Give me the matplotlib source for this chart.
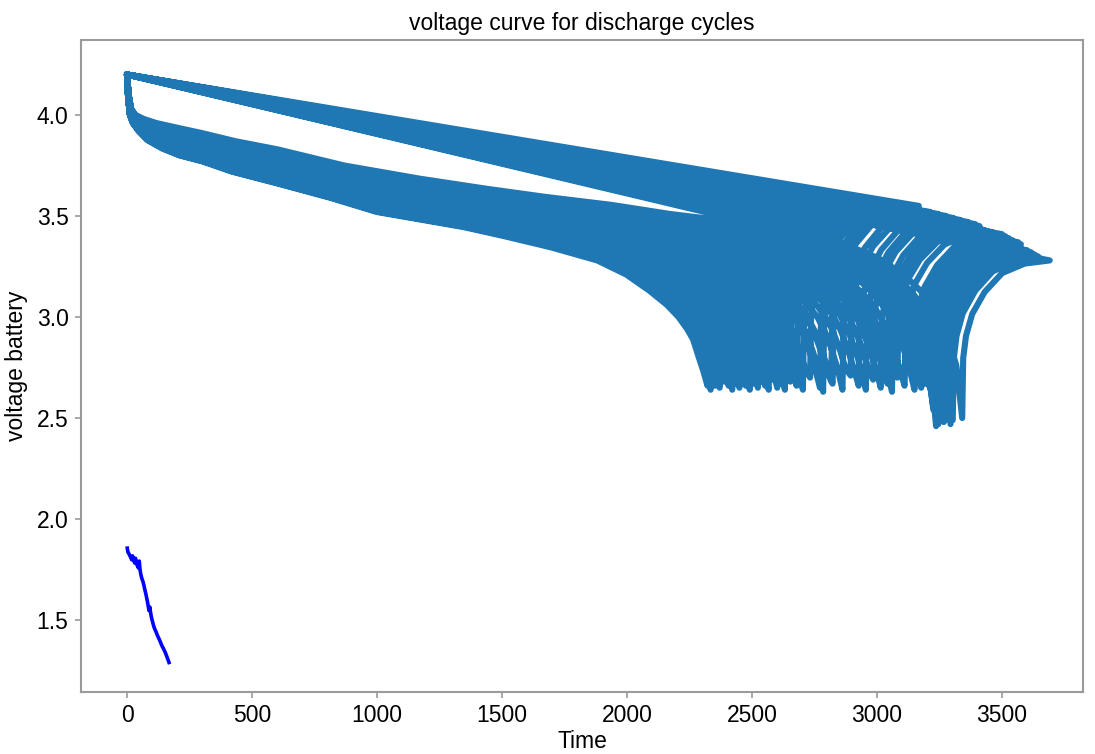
import matplotlib
matplotlib.use("Agg")
import matplotlib.pyplot as plt
import numpy as np

plt.rcParams['font.family'] = ['Liberation Sans', 'DejaVu Sans']

# cycle number and measured capacity (Ah) -- the small blue trace
cycle_no = [1, 4, 7, 10, 13, 16, 19, 22, 25, 28, 31, 34, 37, 40, 43, 46, 49, 52, 55, 58,
            61, 64, 67, 70, 73, 76, 79, 82, 85, 88, 91, 94, 97, 100, 103, 106, 109, 112,
            115, 118, 121, 124, 127, 130, 133, 136, 139, 142, 145, 148, 151, 154, 157,
            160, 163, 166, 168]
capacity = [1.856, 1.835, 1.830, 1.822, 1.815, 1.806, 1.798, 1.818, 1.803, 1.792,
            1.782, 1.806, 1.786, 1.773, 1.765, 1.757, 1.792, 1.750, 1.728, 1.712,
            1.700, 1.690, 1.675, 1.658, 1.642, 1.626, 1.608, 1.590, 1.568, 1.547,
            1.565, 1.540, 1.518, 1.502, 1.488, 1.474, 1.462, 1.453, 1.445, 1.436,
            1.426, 1.418, 1.410, 1.402, 1.393, 1.384, 1.375, 1.367, 1.361, 1.353,
            1.345, 1.337, 1.327, 1.317, 1.307, 1.297, 1.290]

# lowest voltage reached at end of each discharge, and voltage after rest
v_low = [2.50, 2.49, 2.47, 2.51, 2.48, 2.52, 2.46, 2.49, 2.47, 2.54,
         2.66, 2.50, 2.64, 2.67, 2.65, 2.68, 2.55, 2.64, 2.66, 2.70,
         2.63, 2.67, 2.65, 2.69, 2.64, 2.66, 2.71, 2.64, 2.67, 2.63,
         2.68, 2.65, 2.70, 2.64, 2.66, 2.68, 2.64, 2.67, 2.65, 2.69,
         2.64, 2.66, 2.68, 2.65, 2.67, 2.64, 2.66, 2.69, 2.65, 2.67,
         2.64, 2.66, 2.68, 2.65, 2.66, 2.64, 2.66]
v_end = [3.28, 3.29, 3.30, 3.31, 3.32, 3.31, 3.33, 3.30, 3.33, 3.34,
         3.36, 3.33, 3.37, 3.38, 3.39, 3.40, 3.36, 3.41, 3.42, 3.43,
         3.45, 3.46, 3.47, 3.48, 3.49, 3.50, 3.51, 3.52,
         3.53, 3.54, 3.55, 3.53,
         3.51, 3.50, 3.49, 3.49, 3.48, 3.48, 3.47, 3.47, 3.46, 3.46, 3.46,
         3.45, 3.45, 3.45, 3.44, 3.44, 3.43, 3.43, 3.43, 3.42, 3.42, 3.42,
         3.41, 3.41, 3.41]

# discharge curve shape vs. fraction of discharge time (fresh and aged cell)
u_nodes = [0, 0.002, 0.005, 0.01, 0.02, 0.035, 0.06, 0.09, 0.13, 0.18, 0.26, 0.35, 0.43,
           0.5, 0.58, 0.65, 0.73, 0.81, 0.86, 0.9, 0.93, 0.95, 0.965, 0.975, 0.985, 0.993]
v_fresh = [4.20, 4.10, 4.03, 4.00, 3.98, 3.96, 3.937, 3.91, 3.87, 3.83, 3.75, 3.685, 3.635,
           3.595, 3.555, 3.51, 3.47, 3.42, 3.36, 3.29, 3.21, 3.13, 3.05, 2.97, 2.87, 2.76]
v_aged = [4.20, 4.08, 4.00, 3.96, 3.92, 3.876, 3.835, 3.80, 3.77, 3.72, 3.66, 3.59, 3.52,
          3.485, 3.445, 3.40, 3.345, 3.28, 3.21, 3.13, 3.06, 3.00, 2.94, 2.89, 2.80, 2.73]

# rest (recovery) after cut-off: seconds after cut-off, fraction of recovery
rec_dt = [0, 4, 15, 40, 90, 160, 250, 350]
rec_frac = [0, 0.38, 0.52, 0.66, 0.8, 0.92, 0.98, 1.0]

current = 2.0  # A, constant-current discharge

cap = np.array(capacity)
w_all = (cap - cap.min()) / (cap.max() - cap.min())
u = np.array(u_nodes)
vf = np.array(v_fresh)
va = np.array(v_aged)

T, V = [], []
for q, w, lo, hi in zip(capacity, w_all, v_low, v_end):
    t_cut = q * 3600 / current
    T += list(u * t_cut) + [t_cut]
    V += list(va + w * (vf - va)) + [lo]
    T += [t_cut + d for d in rec_dt[1:]]
    V += [lo + f * (hi - lo) for f in rec_frac[1:]]

fig = plt.figure(figsize=(10.95, 7.54), dpi=100)
ax = fig.add_axes([81 / 1095, 1 - 692 / 754, 1002 / 1095, 652 / 754])

ax.plot(T, V, color='#1f77b4', lw=4.4, solid_joinstyle='round')
ax.plot(cycle_no, capacity, color='blue', lw=2.6)

ax.set_xlim(-184, 3824)
ax.set_ylim(1.144, 4.371)
ax.set_xticks([0, 500, 1000, 1500, 2000, 2500, 3000, 3500])
ax.set_yticks([1.5, 2.0, 2.5, 3.0, 3.5, 4.0])

for s in ax.spines.values():
    s.set_color('#9a9a9a')
    s.set_linewidth(1.5)
ax.tick_params(direction='out', length=4, width=1.2, color='#9a9a9a',
               labelcolor='black', labelsize=16.5, pad=5)

ax.set_title("voltage curve for discharge cycles", fontsize=16.5, pad=7)
ax.set_xlabel("Time", fontsize=16.5, labelpad=2)
ax.set_ylabel("voltage battery", fontsize=16.5, labelpad=6)

fig.savefig("out.png", dpi=100)
